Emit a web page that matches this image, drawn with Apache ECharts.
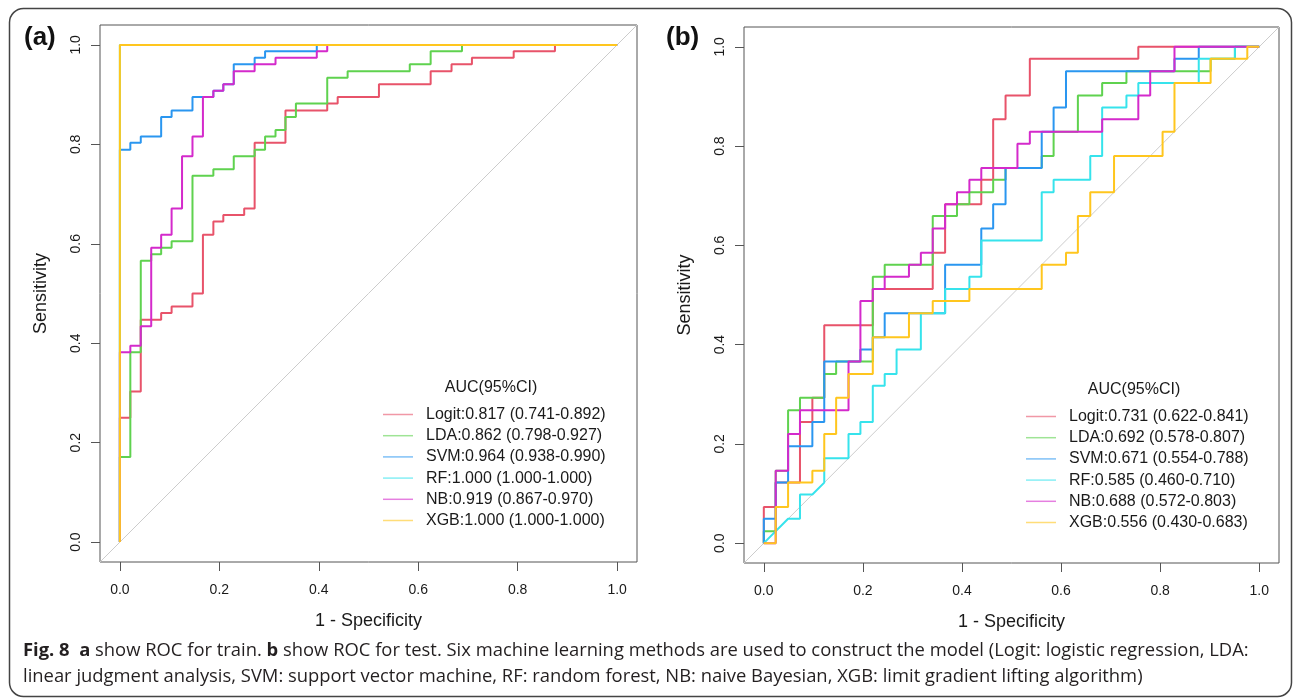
<!DOCTYPE html>
<html>
<head>
<meta charset="utf-8">
<title>ROC train / test</title>
<script src="https://cdn.jsdelivr.net/npm/echarts@6.0.0/dist/echarts.min.js"></script>
<style>
  html, body { margin: 0; padding: 0; background: #fff; }
  #main { width: 1295px; height: 700px; }
</style>
</head>
<body>
<div id="main"></div>
<script>
// six models, same order and colours in both panels
var models = ['Logit', 'LDA', 'SVM', 'RF', 'NB', 'XGB'];
var colors = ['#E8536A', '#5FD24F', '#2A96F0', '#36E3EC', '#D42ACB', '#FFC61E'];

// legend text: AUC (95% CI)
var trainLabels = ['Logit:0.817 (0.741-0.892)', 'LDA:0.862 (0.798-0.927)', 'SVM:0.964 (0.938-0.990)',
                   'RF:1.000 (1.000-1.000)', 'NB:0.919 (0.867-0.970)', 'XGB:1.000 (1.000-1.000)'];
var testLabels = ['Logit:0.731 (0.622-0.841)', 'LDA:0.692 (0.578-0.807)', 'SVM:0.671 (0.554-0.788)',
                  'RF:0.585 (0.460-0.710)', 'NB:0.688 (0.572-0.803)', 'XGB:0.556 (0.430-0.683)'];

var ticks = [0, 0.2, 0.4, 0.6, 0.8, 1.0];
var diag = [[-0.04, -0.04], [1.04, 1.04]];

// (a) train, points are [1 - specificity, sensitivity]
var trainLogit = [[0,0],[0,.25],[.021,.25],[.021,.303],[.042,.303],[.042,.447],[.083,.447],[.083,.461],[.104,.461],[.104,.474],[.146,.474],[.146,.5],[.167,.5],[.167,.618],[.188,.618],[.188,.645],[.208,.645],[.208,.658],[.25,.658],[.25,.671],[.271,.671],[.271,.803],[.333,.803],[.333,.868],[.417,.868],[.417,.882],[.438,.882],[.438,.895],[.521,.895],[.521,.921],[.625,.921],[.625,.947],[.667,.947],[.667,.961],[.708,.961],[.708,.974],[.792,.974],[.792,.987],[.875,.987],[.875,1],[1,1]];
var trainLDA = [[0,0],[0,.171],[.021,.171],[.021,.382],[.042,.382],[.042,.566],[.063,.566],[.063,.579],[.083,.579],[.083,.592],[.104,.592],[.104,.605],[.146,.605],[.146,.737],[.188,.737],[.188,.75],[.229,.75],[.229,.776],[.271,.776],[.271,.789],[.292,.789],[.292,.816],[.313,.816],[.313,.829],[.333,.829],[.333,.855],[.354,.855],[.354,.882],[.417,.882],[.417,.934],[.458,.934],[.458,.947],[.583,.947],[.583,.961],[.625,.961],[.625,.987],[.688,.987],[.688,1],[1,1]];
var trainSVM = [[0,0],[0,.789],[.021,.789],[.021,.803],[.042,.803],[.042,.816],[.083,.816],[.083,.855],[.104,.855],[.104,.868],[.146,.868],[.146,.895],[.188,.895],[.188,.908],[.208,.908],[.208,.921],[.229,.921],[.229,.961],[.271,.961],[.271,.974],[.292,.974],[.292,.987],[.396,.987],[.396,1],[1,1]];
var trainRF = [[0,0],[0,1],[1,1]];
var trainNB = [[0,0],[0,.382],[.021,.382],[.021,.395],[.042,.395],[.042,.434],[.063,.434],[.063,.592],[.083,.592],[.083,.618],[.104,.618],[.104,.671],[.125,.671],[.125,.776],[.146,.776],[.146,.816],[.167,.816],[.167,.895],[.188,.895],[.188,.908],[.208,.908],[.208,.921],[.229,.921],[.229,.947],[.271,.947],[.271,.961],[.313,.961],[.313,.974],[.396,.974],[.396,.987],[.417,.987],[.417,1],[1,1]];
var trainXGB = [[0,0],[0,1],[1,1]];

// (b) test
var testLogit = [[0,0],[0,.073],[.024,.073],[.024,.122],[.073,.122],[.073,.244],[.098,.244],[.098,.293],[.122,.293],[.122,.439],[.22,.439],[.22,.512],[.341,.512],[.341,.585],[.366,.585],[.366,.683],[.439,.683],[.439,.732],[.463,.732],[.463,.854],[.488,.854],[.488,.902],[.537,.902],[.537,.976],[.756,.976],[.756,1],[1,1]];
var testLDA = [[0,0],[0,.024],[.024,.024],[.024,.146],[.049,.146],[.049,.268],[.073,.268],[.073,.293],[.122,.293],[.122,.341],[.146,.341],[.146,.366],[.22,.366],[.22,.537],[.244,.537],[.244,.561],[.341,.561],[.341,.659],[.39,.659],[.39,.683],[.415,.683],[.415,.707],[.463,.707],[.463,.732],[.488,.732],[.488,.756],[.561,.756],[.561,.78],[.585,.78],[.585,.829],[.634,.829],[.634,.902],[.683,.902],[.683,.927],[.732,.927],[.732,.951],[.902,.951],[.902,.976],[.951,.976],[.951,1],[1,1]];
var testSVM = [[0,0],[0,.049],[.024,.049],[.024,.122],[.049,.122],[.049,.195],[.098,.195],[.098,.244],[.122,.244],[.122,.366],[.195,.366],[.195,.39],[.22,.39],[.22,.415],[.244,.415],[.244,.463],[.366,.463],[.366,.561],[.439,.561],[.439,.634],[.463,.634],[.463,.683],[.488,.683],[.488,.756],[.561,.756],[.561,.829],[.585,.829],[.585,.878],[.61,.878],[.61,.951],[.829,.951],[.829,.976],[.878,.976],[.878,1],[1,1]];
var testRF = [[0,0],[.049,.049],[.073,.049],[.073,.098],[.098,.098],[.122,.122],[.122,.171],[.171,.171],[.171,.22],[.195,.22],[.195,.244],[.22,.244],[.22,.317],[.244,.317],[.244,.341],[.268,.341],[.268,.39],[.317,.39],[.317,.463],[.366,.463],[.366,.512],[.415,.512],[.415,.537],[.439,.537],[.439,.61],[.561,.61],[.561,.707],[.585,.707],[.585,.732],[.659,.732],[.659,.78],[.683,.78],[.683,.878],[.732,.878],[.732,.902],[.756,.902],[.756,.927],[.878,.927],[.878,.976],[.951,.976],[.951,1],[1,1]];
var testNB = [[0,0],[.024,0],[.024,.146],[.049,.146],[.049,.22],[.073,.22],[.073,.268],[.171,.268],[.171,.366],[.195,.366],[.195,.488],[.22,.488],[.22,.512],[.244,.512],[.244,.537],[.293,.537],[.293,.561],[.317,.561],[.317,.585],[.341,.585],[.341,.634],[.366,.634],[.366,.683],[.39,.683],[.39,.707],[.415,.707],[.415,.732],[.439,.732],[.439,.756],[.512,.756],[.512,.805],[.537,.805],[.537,.829],[.683,.829],[.683,.854],[.756,.854],[.756,.902],[.78,.902],[.78,.951],[.829,.951],[.829,1],[1,1]];
var testXGB = [[0,0],[.024,0],[.024,.073],[.049,.073],[.049,.122],[.098,.122],[.098,.146],[.122,.146],[.122,.22],[.146,.22],[.146,.293],[.171,.293],[.171,.341],[.22,.341],[.22,.415],[.293,.415],[.293,.463],[.341,.463],[.341,.488],[.415,.488],[.415,.512],[.561,.512],[.561,.561],[.61,.561],[.61,.585],[.634,.585],[.634,.659],[.659,.659],[.659,.707],[.707,.707],[.707,.78],[.805,.78],[.805,.829],[.829,.829],[.829,.927],[.902,.927],[.902,.976],[.976,.976],[.976,1],[1,1]];

var trainCurves = [trainLogit, trainLDA, trainSVM, trainRF, trainNB, trainXGB];
var testCurves = [testLogit, testLDA, testSVM, testRF, testNB, testXGB];

var rFont = 'Liberation Sans';
var ink = '#1a1a1a';

function rocSeries(labels, curves, idx) {
  var list = [{
    type: 'line', xAxisIndex: idx, yAxisIndex: idx, data: diag,
    symbol: 'none', silent: true, lineStyle: { color: '#cccccc', width: 1 }
  }];
  curves.forEach(function (pts, i) {
    list.push({
      name: labels[i], type: 'line', xAxisIndex: idx, yAxisIndex: idx,
      data: pts, symbol: 'none', silent: true,
      lineStyle: { color: colors[i], width: 2 },
      itemStyle: { color: colors[i] }
    });
  });
  return list;
}

function rocLegend(labels, left, top) {
  return {
    orient: 'vertical', left: left, top: top, padding: 0, itemGap: 0.2,
    icon: 'rect', itemWidth: 30, itemHeight: 1.5, selectedMode: false,
    textStyle: { fontFamily: rFont, fontSize: 16, color: ink, lineHeight: 21, padding: [0, 0, 0, 8] },
    data: labels.map(function (n, i) {
      return { name: n, itemStyle: { color: colors[i], opacity: 0.6 } };
    })
  };
}

function xAx(idx) {
  return {
    gridIndex: idx, type: 'value', min: -0.04, max: 1.04,
    name: '1 - Specificity', nameLocation: 'middle', nameGap: 50,
    nameTextStyle: { fontFamily: rFont, fontSize: 18, color: ink },
    axisLine: { show: false, onZero: false },
    axisTick: { show: true, length: 9, customValues: ticks, lineStyle: { color: '#555' } },
    axisLabel: { customValues: ticks, margin: 21, fontFamily: rFont, fontSize: 14, color: ink,
                 formatter: function (v) { return v.toFixed(1); } },
    splitLine: { show: false }
  };
}

function yAx(idx) {
  return {
    gridIndex: idx, type: 'value', min: -0.04, max: 1.04,
    name: 'Sensitivity', nameLocation: 'middle', nameGap: 50,
    nameTextStyle: { fontFamily: rFont, fontSize: 18, color: ink },
    axisLine: { show: false, onZero: false },
    axisTick: { show: true, length: 9, customValues: ticks, lineStyle: { color: '#555' } },
    axisLabel: { customValues: ticks, margin: 17, rotate: 90, fontFamily: rFont, fontSize: 14, color: ink,
                 formatter: function (v) { return v.toFixed(1); } },
    splitLine: { show: false }
  };
}

var chart = echarts.init(document.getElementById('main'));
var option = {
  animation: false,
  backgroundColor: '#fff',
  grid: [
    { left: 100, top: 25, width: 537, height: 537, show: true, borderColor: '#555', borderWidth: 1 },
    { left: 744, top: 27, width: 535, height: 536, show: true, borderColor: '#555', borderWidth: 1 }
  ],
  xAxis: [xAx(0), xAx(1)],
  yAxis: [yAx(0), yAx(1)],
  legend: [rocLegend(trainLabels, 383, 404), rocLegend(testLabels, 1026, 406)],
  series: rocSeries(trainLabels, trainCurves, 0).concat(rocSeries(testLabels, testCurves, 1)),
  graphic: [
    { type: 'rect', silent: true, shape: { x: 9.5, y: 8.5, width: 1282, height: 688, r: 14 },
      style: { fill: 'none', stroke: '#444', lineWidth: 1.5 } },
    { type: 'text', x: 24, y: 38, style: { text: '(a)', fontFamily: rFont, fontSize: 26, fontWeight: 'bold',
      fill: '#111', verticalAlign: 'middle' } },
    { type: 'text', x: 666, y: 38, style: { text: '(b)', fontFamily: rFont, fontSize: 26, fontWeight: 'bold',
      fill: '#111', verticalAlign: 'middle' } },
    { type: 'text', x: 491, y: 388, style: { text: 'AUC(95%CI)', fontFamily: rFont, fontSize: 16, fill: ink,
      align: 'center', verticalAlign: 'middle' } },
    { type: 'text', x: 1134, y: 390, style: { text: 'AUC(95%CI)', fontFamily: rFont, fontSize: 16, fill: ink,
      align: 'center', verticalAlign: 'middle' } },
    { type: 'text', x: 23, y: 651, style: {
      text: '{b|Fig. 8}  {b|a} show ROC for train. {b|b} show ROC for test. Six machine learning methods are used to construct the model (Logit: logistic regression, LDA:',
      fontFamily: 'Open Sans', fontSize: 18.4, fill: '#231f20', verticalAlign: 'middle',
      rich: { b: { fontFamily: 'Open Sans', fontSize: 18.4, fontWeight: 'bold', fill: '#231f20' } } } },
    { type: 'text', x: 23, y: 677, style: {
      text: 'linear judgment analysis, SVM: support vector machine, RF: random forest, NB: naive Bayesian, XGB: limit gradient lifting algorithm)',
      fontFamily: 'Open Sans', fontSize: 18.4, fill: '#231f20', verticalAlign: 'middle' } }
  ]
};
chart.setOption(option);
</script>
</body>
</html>
